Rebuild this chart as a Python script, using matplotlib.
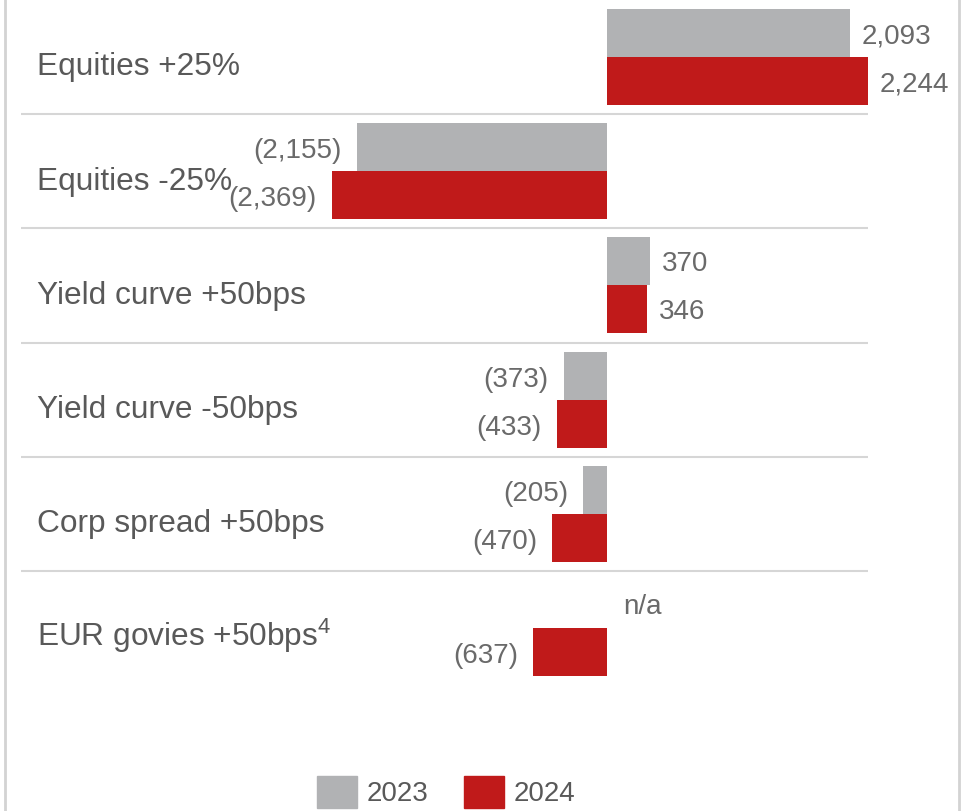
import numpy as np
import matplotlib
matplotlib.use("Agg")
import matplotlib.pyplot as plt
from matplotlib.patches import Patch
from matplotlib.lines import Line2D
import matplotlib.transforms as mtransforms

plt.rcParams['font.family'] = ['Liberation Sans', 'DejaVu Sans']
plt.rcParams['mathtext.fontset'] = 'custom'
plt.rcParams['mathtext.rm'] = 'Liberation Sans'
plt.rcParams['mathtext.it'] = 'Liberation Sans'

categories = ["Equities +25%", "Equities -25%", "Yield curve +50bps",
              "Yield curve -50bps", "Corp spread +50bps", "EUR govies +50bps$^{4}$"]
values_2023 = [2093, -2155, 370, -373, -205, np.nan]
values_2024 = [2244, -2369, 346, -433, -470, -637]
series_names = ["2023", "2024"]

GREY = "#B1B2B4"
RED = "#C01A1A"
LABEL_COLOR = "#595959"
VALUE_COLOR = "#6A6A6A"


def fmt(v):
    if v < 0:
        return f"({abs(v):,.0f})"
    return f"{v:,.0f}"


fig = plt.figure(figsize=(9.63, 8.11), dpi=100)
ax = fig.add_axes([21 / 963, (811 - 685) / 811, 847 / 963, 685 / 811])

y = np.arange(len(categories))
h = 0.42
ax.barh(y - h / 2, values_2023, height=h, color=GREY)
ax.barh(y + h / 2, values_2024, height=h, color=RED)

ax.set_xlim(-5047, 2248)
ax.set_ylim(len(categories) - 0.5, -0.5)
ax.axis("off")

# row separators
for s in np.arange(0.5, len(categories) - 1, 1.0):
    ax.axhline(s, color="#D6D6D6", lw=1.5, zorder=0)

# category labels
trans = mtransforms.blended_transform_factory(ax.transAxes, ax.transData)
for i, c in enumerate(categories):
    ax.text(16 / 847, i + 0.16, c, transform=trans, fontsize=22.8,
            color=LABEL_COLOR, va="baseline", ha="left")

# value labels (slightly below bar centre like the original)
def label(yv, v):
    if np.isnan(v):
        ax.annotate("n/a", (0, yv), xytext=(16, -3), textcoords="offset pixels",
                    ha="left", va="center", fontsize=20, color=VALUE_COLOR)
    elif v >= 0:
        ax.annotate(fmt(v), (v, yv), xytext=(12, -3), textcoords="offset pixels",
                    ha="left", va="center", fontsize=20, color=VALUE_COLOR)
    else:
        ax.annotate(fmt(v), (v, yv), xytext=(-15, -4), textcoords="offset pixels",
                    ha="right", va="center", fontsize=20, color=VALUE_COLOR)

for i in range(len(categories)):
    label(i - h / 2, values_2023[i])
    label(i + h / 2, values_2024[i])

# panel borders
fig.add_artist(Line2D([5 / 963, 5 / 963], [0, 1], color="#D3D3D3", lw=2))
fig.add_artist(Line2D([959 / 963, 959 / 963], [0, 1], color="#D3D3D3", lw=2))

handles = [Patch(color=GREY, label=series_names[0]),
           Patch(color=RED, label=series_names[1])]
fig.legend(handles=handles, loc="center", bbox_to_anchor=(446 / 963, 19 / 811),
           ncol=2, frameon=False, fontsize=20, handlelength=1.44, handleheight=1.44,
           handletextpad=0.36, columnspacing=1.26, borderpad=0,
           labelcolor=LABEL_COLOR)

fig.savefig("out.png", dpi=100)
